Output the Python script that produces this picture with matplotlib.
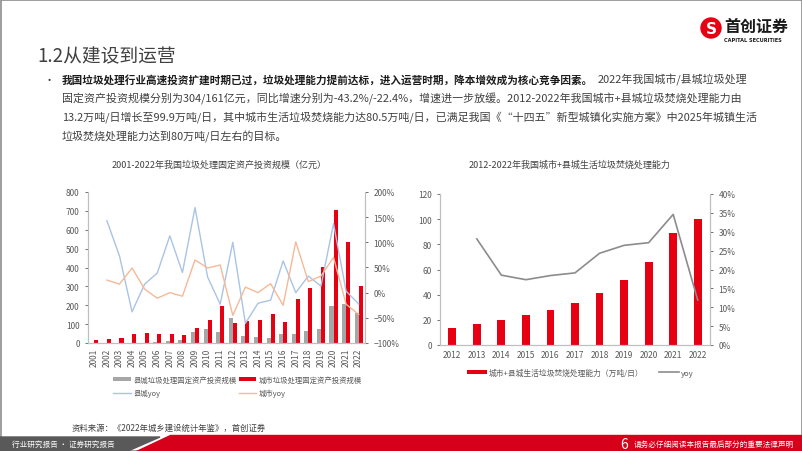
import numpy as np
import matplotlib.pyplot as plt
from matplotlib.patches import Polygon, Rectangle, Circle
from matplotlib.ticker import PercentFormatter

plt.rcParams['font.family'] = ['Noto Sans CJK SC', 'DejaVu Sans']

# --- 数据：左图（亿元） ---
years_l = [str(y) for y in range(2001, 2023)]
county_inv = [1, 1, 1, 1, 1, 4, 11, 18, 57, 76, 60, 130, 39, 30, 27, 46, 46, 66, 76, 196, 207, 161]
city_inv = [18, 23, 28, 48, 52, 46, 48, 44, 78, 121, 194, 105, 117, 124, 151, 112, 235, 293, 402, 702, 535, 304]
county_yoy = [np.nan, 143, 73, -38, 17, 39, 113, 40, 169, 31, -23, 100, -61, -21, -15, 63, 0, 33, 13, 137, 3, -22.4]
city_yoy = [np.nan, 25, 17, 49, 7, -11, 0, -7, 65, 49, 55, -45, 11, 0, 18, -25, 101, 22, 33, 70, -23, -43.2]

# --- 数据：右图（万吨/日） ---
years_r = [str(y) for y in range(2012, 2023)]
capacity = [13.2, 17.0, 19.9, 23.8, 27.5, 33.1, 41.0, 51.9, 65.7, 88.7, 99.9]
cap_yoy = [np.nan, 28.1, 18.5, 17.3, 18.4, 19.1, 24.3, 26.4, 27.1, 34.6, 11.9]

RED = '#E60012'
GRAY_BAR = '#A6A6A6'
BLUE = '#A9C4E4'
ORANGE = '#F5B998'
TXT = '#404040'
TICK = '#595959'
SPINE = '#BFBFBF'

fig = plt.figure(figsize=(8.02, 4.52), dpi=100)

# 页面装饰层（像素坐标）
bg = fig.add_axes([0, 0, 1, 1])
bg.set_xlim(0, 802)
bg.set_ylim(452, 0)
bg.axis('off')

bg.add_patch(Rectangle((0.5, 0.5), 801, 451, fill=False, edgecolor='#8C8C8C', lw=1.2))

# logo
bg.add_patch(Circle((711, 29), 10, color=RED))
bg.text(711, 29.5, 'S', color='white', fontsize=11, fontweight='bold', ha='center', va='center',
        family='DejaVu Sans')
bg.text(724, 27, '首创证券', fontsize=11.5, fontweight='bold', color='#1A1A1A', va='center')
bg.text(724, 40, 'CAPITAL SECURITIES', fontsize=3.6, fontweight='bold', color='#1A1A1A', va='center',
        family='DejaVu Sans')

bg.text(37, 57, '1.2从建设到运营', fontsize=13.5, color='#404040', va='center')

bg.text(44, 81, '•', fontsize=8, color=TXT, va='center')
bg.text(62, 80, '我国垃圾处理行业高速投资扩建时期已过，垃圾处理能力提前达标，进入运营时期，降本增效成为核心竞争因素。',
        fontsize=7.65, fontweight='bold', color='#1A1A1A', va='center')
bg.text(598, 80, '2022年我国城市/县城垃圾处理', fontsize=7.9, color=TXT, va='center')
body = ['固定资产投资规模分别为304/161亿元，同比增速分别为-43.2%/-22.4%，增速进一步放缓。2012-2022年我国城市+县城垃圾焚烧处理能力由',
        '13.2万吨/日增长至99.9万吨/日，其中城市生活垃圾焚烧能力达80.5万吨/日，已满足我国《“十四五”新型城镇化实施方案》中2025年城镇生活',
        '垃圾焚烧处理能力达到80万吨/日左右的目标。']
for i, line in enumerate(body):
    bg.text(62, 99 + 19 * i, line, fontsize=7.9, color=TXT, va='center')

bg.text(219, 165, '2001-2022年我国垃圾处理固定资产投资规模（亿元）', fontsize=6.5, color=TXT,
        ha='center', va='center')
bg.text(570, 165, '2012-2022年我国城市+县城生活垃圾焚烧处理能力', fontsize=6.5, color=TXT,
        ha='center', va='center')

bg.text(72, 428, '资料来源：《2022年城乡建设统计年鉴》，首创证券', fontsize=6, color=TXT,
        style='italic', va='center')

# 底部色带
bg.add_patch(Polygon([(0, 438), (160, 438), (128, 452), (0, 452)], color='#595959'))
bg.add_patch(Polygon([(170, 436), (802, 436), (802, 452), (136, 452)], color='#D7001A'))
bg.text(12, 445, '行业研究报告 · 证券研究报告', fontsize=5.5, color='white', va='center')
bg.text(620, 445, '6', fontsize=10, color='white', va='center')
bg.text(634, 445, '请务必仔细阅读本报告最后部分的重要法律声明', fontsize=5.5, color='white', va='center')

# --- 左图 ---
ax = fig.add_axes([88 / 802, 1 - 344 / 452, 277 / 802, 151 / 452])
x = np.arange(len(years_l))
w = 0.32
ax.bar(x - w / 2, county_inv, width=w, color=GRAY_BAR, label='县城垃圾处理固定资产投资规模')
ax.bar(x + w / 2, city_inv, width=w, color=RED, label='城市垃圾处理固定资产投资规模')
ax.set_xlim(-0.5, len(x) - 0.5)
ax.set_ylim(0, 800)
ax.set_yticks(range(0, 801, 100))
ax.set_xticks(x)
ax.set_xticklabels(years_l, rotation=90)
ax2 = ax.twinx()
ax2.plot(x, county_yoy, color=BLUE, lw=1, label='县城yoy')
ax2.plot(x, city_yoy, color=ORANGE, lw=1, label='城市yoy')
ax2.set_ylim(-100, 200)
ax2.set_yticks(range(-100, 201, 50))
ax2.yaxis.set_major_formatter(PercentFormatter(decimals=0))

for a in (ax, ax2):
    a.spines['top'].set_visible(False)
    for s in ('left', 'right', 'bottom'):
        a.spines[s].set_color(SPINE)
        a.spines[s].set_linewidth(0.8)
    a.tick_params(labelsize=6, colors=TICK, length=2.5, width=0.6)
    a.tick_params(axis='x', length=0)
    a.patch.set_alpha(0)

h1, l1 = ax.get_legend_handles_labels()
h2, l2 = ax2.get_legend_handles_labels()
ax.legend([h1[0], h2[0], h1[1], h2[1]], [l1[0], l2[0], l1[1], l2[1]], ncol=2,
          loc='upper center', bbox_to_anchor=(0.54, -0.17),
          frameon=False, fontsize=5.3, labelcolor=TICK, handlelength=2.4, handleheight=0.45,
          columnspacing=0.3, handletextpad=0.3, labelspacing=0.75)

# --- 右图 ---
bx = fig.add_axes([440 / 802, 1 - 346 / 452, 270 / 802, 151 / 452])
xr = np.arange(len(years_r))
bx.bar(xr, capacity, width=0.32, color=RED, label='城市+县城生活垃圾焚烧处理能力（万吨/日）')
bx.set_xlim(-0.5, len(xr) - 0.5)
bx.set_ylim(0, 120)
bx.set_yticks(range(0, 121, 20))
bx.set_xticks(xr)
bx.set_xticklabels(years_r)
bx2 = bx.twinx()
bx2.plot(xr, cap_yoy, color='#8C8C8C', lw=1.2, label='yoy')
bx2.set_ylim(0, 40)
bx2.set_yticks(range(0, 41, 5))
bx2.yaxis.set_major_formatter(PercentFormatter(decimals=0))

for a in (bx, bx2):
    a.spines['top'].set_visible(False)
    for s in ('left', 'right', 'bottom'):
        a.spines[s].set_color(SPINE)
        a.spines[s].set_linewidth(0.8)
    a.tick_params(labelsize=6, colors=TICK, length=2.5, width=0.6)
    a.tick_params(axis='x', length=0)
    a.patch.set_alpha(0)

h1, l1 = bx.get_legend_handles_labels()
h2, l2 = bx2.get_legend_handles_labels()
bx.legend(h1 + h2, l1 + l2, ncol=2, loc='upper center', bbox_to_anchor=(0.52, -0.11),
          frameon=False, fontsize=5.6, labelcolor=TICK, handlelength=2.5, handleheight=0.5,
          columnspacing=2.0, handletextpad=0.3)

fig.savefig('out.png', dpi=100)
